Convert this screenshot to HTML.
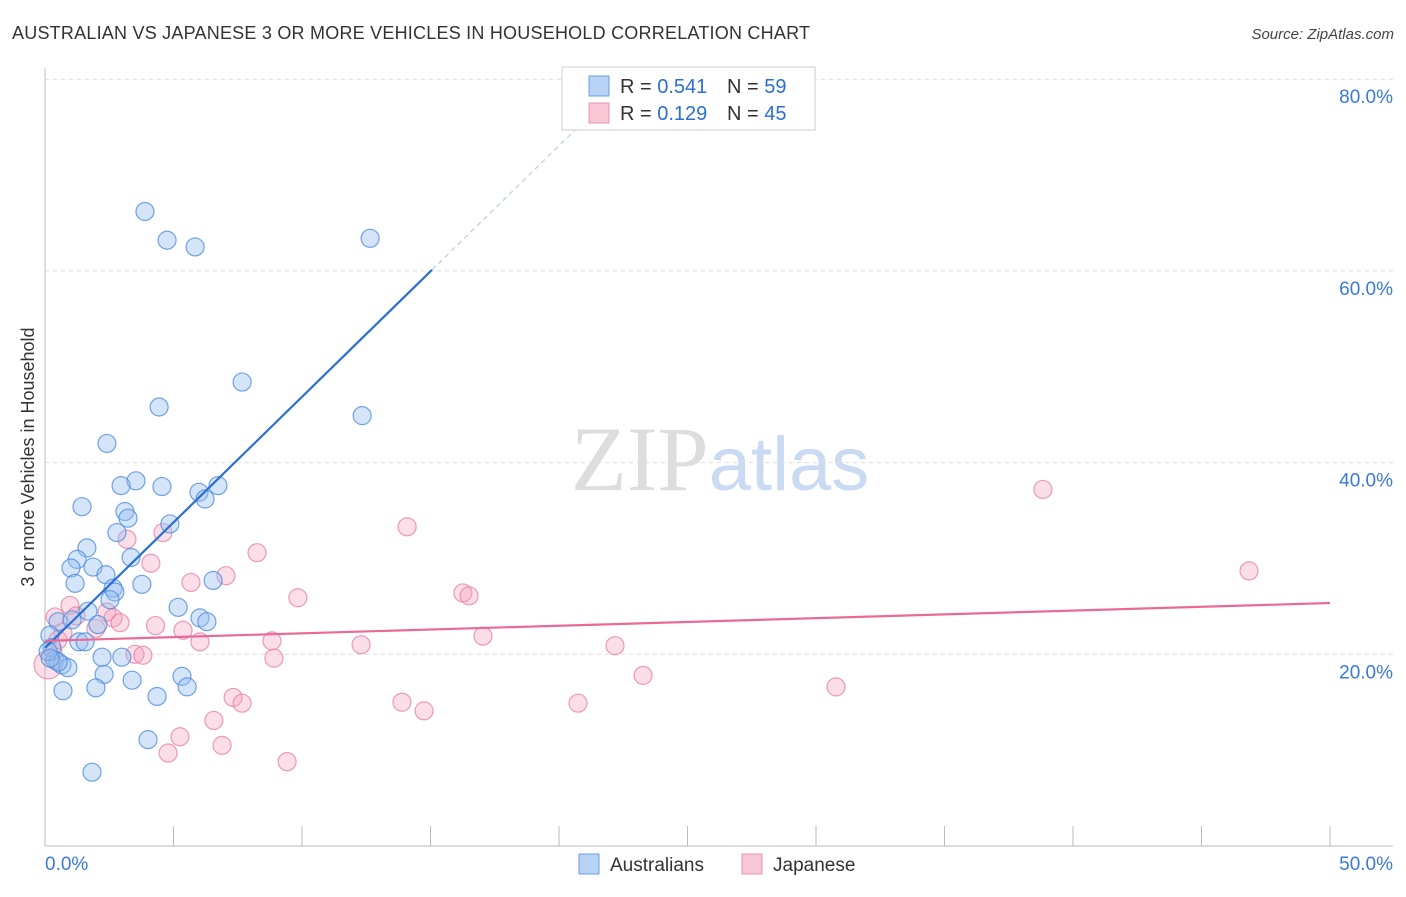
<!DOCTYPE html>
<html><head><meta charset="utf-8"><style>
body{margin:0;background:#fff;font-family:"Liberation Sans",sans-serif}
</style></head><body>
<svg width="1406" height="892" xmlns="http://www.w3.org/2000/svg" font-family="Liberation Sans, sans-serif">
<text x="12" y="39" font-size="18" fill="#333" textLength="798" lengthAdjust="spacing">AUSTRALIAN VS JAPANESE 3 OR MORE VEHICLES IN HOUSEHOLD CORRELATION CHART</text>
<text x="1394" y="39" font-size="15" fill="#444" text-anchor="end" font-style="italic">Source: ZipAtlas.com</text>
<text x="720" y="490" font-size="92" text-anchor="middle" font-family="Liberation Serif, serif"><tspan fill="#ddd">ZIP</tspan><tspan fill="#c9daf2" font-family="Liberation Sans, sans-serif" font-size="76">atlas</tspan></text>
<g id="grid"></g>
<g id="axes"></g>
<g id="marks"></g>
<text transform="translate(34,457) rotate(-90)" font-size="18" fill="#333" text-anchor="middle">3 or more Vehicles in Household</text>
<g>
<rect x="562" y="67" width="253" height="63" fill="#fff" stroke="#ccc"/>
<rect x="589" y="76" width="20" height="20" fill="#b9d3f5" stroke="#6a9ee0"/>
<rect x="589" y="103" width="20" height="20" fill="#f9c6d6" stroke="#e895b0"/>
<text x="620" y="93" font-size="20" fill="#333">R = <tspan fill="#2b6fd1">0.541</tspan></text>
<text x="727" y="93" font-size="20" fill="#333">N = <tspan fill="#2b6fd1">59</tspan></text>
<text x="620" y="120" font-size="20" fill="#333">R = <tspan fill="#2b6fd1">0.129</tspan></text>
<text x="727" y="120" font-size="20" fill="#333">N = <tspan fill="#2b6fd1">45</tspan></text>
</g>
<g>
<rect x="579" y="854" width="20" height="20" fill="#b9d3f5" stroke="#6a9ee0"/>
<text x="610" y="871" font-size="19" fill="#333">Australians</text>
<rect x="742" y="854" width="20" height="20" fill="#f9c6d6" stroke="#e895b0"/>
<text x="773" y="871" font-size="19" fill="#333">Japanese</text>
</g>
</svg>
<script>
const ausX=[3.89,4.75,5.84,12.65,7.67,4.44,12.34,2.41,3.54,2.96,4.55,6.73,5.99,6.23,1.44,3.11,3.23,4.86,2.80,1.63,1.25,3.35,1.01,1.87,2.37,1.17,3.77,6.54,2.65,2.72,2.53,5.18,1.67,6.03,6.3,0.51,1.05,2.06,0.19,1.32,1.56,0.27,2.22,2.99,0.39,0.66,0.89,0.51,2.30,3.39,5.33,5.53,0.70,1.98,4.36,4.01,1.83,0.12,0.2];
const ausY=[66.2,63.2,62.5,63.4,48.4,45.8,44.9,42.0,38.1,37.6,37.5,37.6,36.9,36.2,35.4,34.9,34.2,33.6,32.7,31.1,29.9,30.1,29.0,29.1,28.3,27.4,27.3,27.7,26.9,26.5,25.7,24.9,24.5,23.8,23.4,23.4,23.6,23.1,22.0,21.3,21.3,20.7,19.7,19.7,19.4,18.9,18.6,19.2,17.9,17.3,17.7,16.6,16.2,16.5,15.6,11.1,7.7,20.3,19.6];
const japX=[38.83,46.85,14.09,8.25,4.59,3.19,4.12,5.68,7.04,9.84,16.26,16.50,0.97,1.21,2.41,2.65,2.92,1.98,4.30,5.37,0.70,0.39,17.04,8.83,6.03,12.30,22.18,0.31,3.50,3.81,8.91,23.27,30.78,7.32,7.67,13.89,20.74,14.75,6.57,5.25,6.89,4.79,9.42,0.12,0.5];
const japY=[37.2,28.7,33.3,30.6,32.7,32.0,29.5,27.5,28.2,25.9,26.4,26.1,25.1,24.0,24.4,23.8,23.3,22.7,23.0,22.5,22.3,23.9,21.9,21.4,21.3,21.0,20.9,20.3,20.0,19.9,19.6,17.8,16.6,15.5,14.9,15.0,14.9,14.1,13.1,11.4,10.5,9.7,8.8,18.9,21.5];
const yTicks=[20,40,60,80];
const ausTrend=[20.66,2.62]; // intercept, slope
const japTrend=[21.4,0.079];
const NS="http://www.w3.org/2000/svg";
const X=v=>45+v*25.7, Y=v=>846-v*9.585;
function mk(t,a,p){const e=document.createElementNS(NS,t);for(const k in a)e.setAttribute(k,a[k]);p.appendChild(e);return e;}
const grid=document.getElementById('grid'),axes=document.getElementById('axes'),marks=document.getElementById('marks');
yTicks.forEach(t=>{
 const l=mk('line',{x1:45,x2:1393,y1:Y(t),y2:Y(t),stroke:'#ddd','stroke-dasharray':'4,4'},grid);
 
 
 const tx=mk('text',{x:1393,y:Y(t)+24,'font-size':19,fill:'#3b78d8','text-anchor':'end'},axes);
 tx.textContent=t.toFixed(1)+'%';
 
 
});
mk('line',{x1:45,x2:45,y1:68,y2:846,stroke:'#bbb'},axes);
mk('line',{x1:45,x2:1393,y1:846,y2:846,stroke:'#bbb'},axes);
for(let i=0;i<=10;i++){const t=mk('line',{x1:X(i*5),x2:X(i*5),y1:826,y2:846,stroke:'#bbb'},axes);
 
 }
let a=mk('text',{x:45,y:870,'font-size':19,fill:'#3b78d8'},axes);a.textContent='0.0%';


a=mk('text',{x:1393,y:870,'font-size':19,fill:'#3b78d8','text-anchor':'end'},axes);a.textContent='50.0%';


japX.forEach((x,i)=>{const c=mk('circle',{cx:X(x),cy:Y(japY[i]),r:i==43?14:9,fill:'rgba(244,160,190,0.35)',stroke:'rgba(232,130,165,0.8)','stroke-width':1.2},marks);
 
 });
ausX.forEach((x,i)=>{const c=mk('circle',{cx:X(x),cy:Y(ausY[i]),r:9,fill:'rgba(150,190,240,0.4)',stroke:'rgba(80,140,220,0.8)','stroke-width':1.2},marks);
 
 });
let l=mk('line',{x1:X(0),y1:Y(ausTrend[0]),x2:X(15.06),y2:Y(ausTrend[0]+ausTrend[1]*15.06),stroke:'#2b6fd1','stroke-width':2.2},marks);


l=mk('line',{x1:X(15.06),y1:Y(ausTrend[0]+ausTrend[1]*15.06),x2:X(21.5),y2:Y(ausTrend[0]+ausTrend[1]*21.5),stroke:'#a8c4ec','stroke-width':1,'stroke-dasharray':'5,4'},marks);


l=mk('line',{x1:X(0),y1:Y(japTrend[0]),x2:X(50),y2:Y(japTrend[0]+japTrend[1]*50),stroke:'#e86a98','stroke-width':2.2},marks);


</script>
</body></html>
